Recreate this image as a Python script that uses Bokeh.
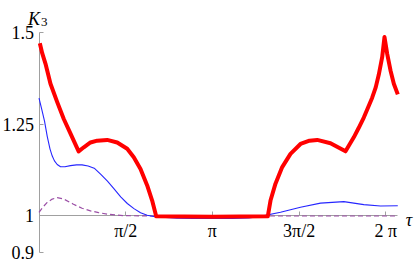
import math
from bokeh.plotting import figure
from bokeh.models import Range1d, LinearAxis, FixedTicker, Label
from bokeh.embed import file_html
from bokeh.resources import INLINE

# ---- data ----
tau_red = [0.015, 0.058, 0.118, 0.208, 0.33, 0.449, 0.571, 0.718,
           0.812, 0.933, 1.054, 1.235, 1.417, 1.598, 1.717, 1.839, 1.96, 2.05, 2.123,
           3.14, 4.145,
           4.194, 4.284, 4.406, 4.556, 4.737, 4.90, 5.04, 5.281, 5.553,
           5.703, 5.793, 5.884, 5.946, 6.036, 6.10, 6.156, 6.217, 6.259,
           6.308, 6.368, 6.428, 6.5]
k_red = [1.470, 1.443, 1.414, 1.360, 1.310, 1.264, 1.224, 1.176,
         1.187, 1.200, 1.205, 1.207, 1.200, 1.183, 1.160, 1.128, 1.083, 1.042, 0.999,
         0.998, 0.999,
         1.042, 1.088, 1.133, 1.169, 1.196, 1.205, 1.207, 1.198, 1.176,
         1.214, 1.240, 1.268, 1.290, 1.322, 1.350, 1.385, 1.432, 1.487,
         1.441, 1.396, 1.360, 1.331]

tau_blue = [0.0, 0.05, 0.10, 0.15, 0.20, 0.24, 0.28, 0.33, 0.39, 0.47, 0.57, 0.68, 0.78, 0.89,
            1.0, 1.12, 1.24, 1.36, 1.48, 1.60, 1.72, 1.84, 1.96, 2.1, 2.5, 2.8, 3.14, 3.5,
            3.8, 4.013, 4.375, 4.737, 5.1, 5.522, 5.884, 6.187, 6.5]
k_blue = [1.321, 1.290, 1.258, 1.216, 1.182, 1.163, 1.150, 1.140, 1.134, 1.134, 1.137, 1.139,
          1.139, 1.136, 1.130, 1.113, 1.095, 1.074, 1.052, 1.034, 1.020, 1.009, 1.002, 0.998,
          0.994, 0.993, 0.993, 0.993, 0.995, 0.999, 1.010, 1.024, 1.035, 1.039, 1.031, 1.027,
          1.028]

tau_purple = [0.0, 0.07, 0.149, 0.24, 0.33, 0.45, 0.625, 0.78, 0.933, 1.08, 1.24, 1.53, 2.0,
              3.14, 4.5, 6.5]
k_purple = [1.010, 1.024, 1.037, 1.046, 1.050, 1.046, 1.032, 1.021, 1.014, 1.009, 1.005,
            1.001, 1.0, 1.0, 1.0, 1.0]

x_ticks = [math.pi / 2, math.pi, 3 * math.pi / 2, 2 * math.pi]
x_tick_labels = ["π/2", "π", "3π/2", "2 π"]
y_ticks = [0.9, 1.0, 1.25, 1.5]
y_tick_labels = ["0.9", "1", "1.25", "1.5"]

FONT = "Liberation Serif"
AXIS_COLOR = "#a0a0a0"

# the frame covers the whole canvas; axes are drawn at fixed locations inside it
p = figure(width=417, height=264,
           x_range=Range1d(-0.6975, 6.857), y_range=Range1d(0.868, 1.5864),
           output_backend="svg", toolbar_location=None,
           x_axis_location=None, y_axis_location=None,
           min_border_left=0, min_border_right=0, min_border_top=0, min_border_bottom=0)
p.outline_line_color = None
p.grid.grid_line_color = None
p.background_fill_color = "white"
p.border_fill_color = "white"


def style_axis(ax):
    ax.axis_line_color = AXIS_COLOR
    ax.major_tick_line_color = AXIS_COLOR
    ax.minor_tick_line_color = None
    ax.major_tick_in = 4
    ax.major_tick_out = 0
    ax.major_label_text_font = FONT
    ax.major_label_text_font_size = "18px"
    ax.major_label_text_color = "black"
    ax.level = "underlay"


xaxis = LinearAxis(fixed_location=1.0, ticker=FixedTicker(ticks=x_ticks), bounds=(0, 6.5))
xaxis.major_label_overrides = {t: s for t, s in zip(x_ticks, x_tick_labels)}
style_axis(xaxis)
xaxis.major_label_standoff = 5
p.add_layout(xaxis, "below")

yaxis = LinearAxis(fixed_location=0.0, ticker=FixedTicker(ticks=y_ticks), bounds=(0.9, 1.5))
yaxis.major_label_overrides = {t: s for t, s in zip(y_ticks, y_tick_labels)}
style_axis(yaxis)
yaxis.major_label_standoff = 5
p.add_layout(yaxis, "left")

p.line(tau_purple, k_purple, line_color="#9b4fa6", line_width=1.2, line_dash="5 3")
p.line(tau_blue, k_blue, line_color="#2626ff", line_width=1.1)
p.line(tau_red, k_red, line_color="#ff0000", line_width=4, line_join="round")

p.add_layout(Label(x=0, y=1.5, x_offset=1, y_offset=13, text="K", text_font=FONT,
                   text_font_style="italic", text_font_size="18px", text_align="right",
                   text_baseline="alphabetic", text_color="black"))
p.add_layout(Label(x=0, y=1.5, x_offset=2, y_offset=10, text="3", text_font=FONT,
                   text_font_size="13px", text_align="left", text_baseline="alphabetic",
                   text_color="black"))
p.add_layout(Label(x=6.5, y=1.0, x_offset=8, y_offset=-4.5, text="τ", text_font=FONT,
                   text_font_style="italic", text_font_size="18px", text_align="left",
                   text_baseline="alphabetic", text_color="black"))

open("out.html", "w").write(file_html(p, INLINE))
